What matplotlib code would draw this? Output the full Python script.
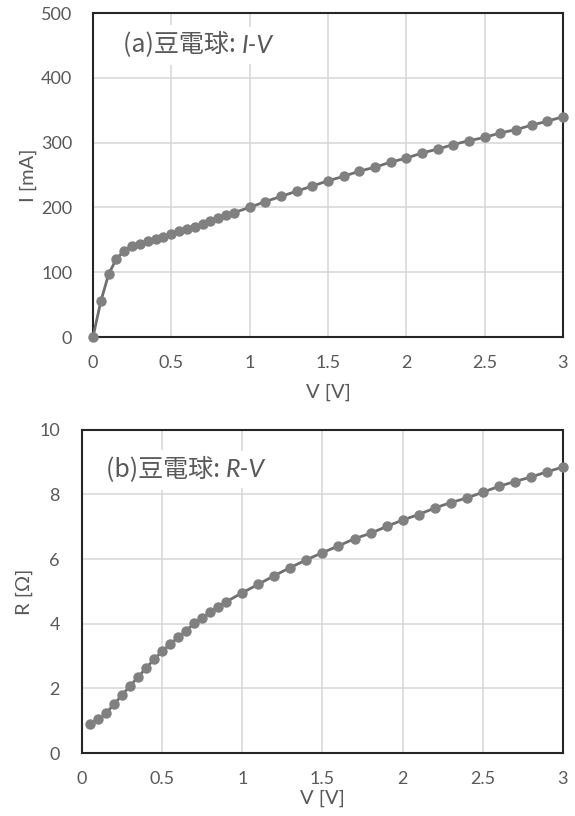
import numpy as np
import matplotlib
matplotlib.use("Agg")
import matplotlib.pyplot as plt

plt.rcParams['font.family'] = ['Lato', 'Noto Sans CJK JP', 'DejaVu Sans']

# I-V data
v_iv = [0, 0.05, 0.1, 0.15, 0.2, 0.25, 0.3, 0.35, 0.4, 0.45, 0.5, 0.55, 0.6, 0.65,
        0.7, 0.75, 0.8, 0.85, 0.9, 1.0, 1.1, 1.2, 1.3, 1.4, 1.5, 1.6, 1.7, 1.8, 1.9,
        2.0, 2.1, 2.2, 2.3, 2.4, 2.5, 2.6, 2.7, 2.8, 2.9, 3.0]
i_ma = [0, 55, 97, 121, 133, 141, 144, 148, 151, 154, 159, 163, 166, 170,
        175, 179, 184, 188, 192, 200, 209, 217, 225, 233, 241, 248, 256, 262, 270,
        276, 284, 290, 297, 303, 308, 315, 320, 327, 333, 340]

# R-V data
v_rv = v_iv[1:]
r_ohm = [0.90, 1.04, 1.23, 1.51, 1.79, 2.08, 2.35, 2.63, 2.90, 3.15, 3.37, 3.58, 3.79,
         4.01, 4.19, 4.35, 4.52, 4.68, 4.96, 5.22, 5.49, 5.74, 5.98, 6.20, 6.41, 6.63,
         6.80, 7.01, 7.21, 7.38, 7.58, 7.75, 7.89, 8.07, 8.25, 8.40, 8.54, 8.70, 8.85]

txt = '#595959'
grid_c = '#d9d9d9'
line_c = '#6f6f6f'
mark_c = '#808080'

fig = plt.figure(figsize=(5.75, 8.16), dpi=100)
ax1 = fig.add_axes([0.1617, 0.587, 0.8173, 0.397])
ax2 = fig.add_axes([0.1426, 0.0772, 0.8364, 0.396])


def style(ax, ypad):
    ax.grid(True, color=grid_c, linewidth=1.2)
    ax.set_axisbelow(True)
    for s in ax.spines.values():
        s.set_color('#262626')
        s.set_linewidth(1.5)
    ax.tick_params(length=0, labelsize=13, labelcolor=txt)
    ax.tick_params(axis='x', pad=13)
    ax.tick_params(axis='y', pad=ypad)
    ax.set_xlim(0, 3)
    ax.set_xticks([0, 0.5, 1, 1.5, 2, 2.5, 3])
    ax.set_xticklabels(['0', '0.5', '1', '1.5', '2', '2.5', '3'])


def label(ax, x, y, head, tail):
    t = ax.text(x, y, head, transform=ax.transAxes, fontsize=18, color=txt,
                va='center', ha='left', family=['Noto Sans CJK JP', 'DejaVu Sans'],
                bbox=dict(facecolor='white', edgecolor='none', pad=5))
    ax.annotate(tail, xy=(1, 0.5), xycoords=t, fontsize=18, color=txt,
                style='italic', va='center', ha='left',
                bbox=dict(facecolor='white', edgecolor='none', pad=5))


style(ax1, 15)
ax1.plot(v_iv, i_ma, color=line_c, linewidth=2, marker='o', markersize=6.5,
         markerfacecolor=mark_c, markeredgecolor=mark_c, clip_on=False, zorder=3)
ax1.set_ylim(0, 500)
ax1.set_yticks(range(0, 501, 100))
ax1.set_ylabel('I [mA]', fontsize=14.5, color=txt, labelpad=3)
ax1.set_xlabel('V [V]', fontsize=14.5, color=txt, labelpad=9)
label(ax1, 0.064, 0.90, '(a)豆電球: ', 'I-V')

style(ax2, 16)
ax2.plot(v_rv, r_ohm, color=line_c, linewidth=2, marker='o', markersize=6.5,
         markerfacecolor=mark_c, markeredgecolor=mark_c, clip_on=False, zorder=3)
ax2.set_ylim(0, 10)
ax2.set_yticks(range(0, 11, 2))
ax2.set_ylabel('R [Ω]', fontsize=14.5, color=txt, labelpad=4)
ax2.set_xlabel('V [V]', fontsize=14.5, color=txt, labelpad=2)
label(ax2, 0.05, 0.876, '(b)豆電球: ', 'R-V')

fig.savefig('out.png', dpi=100)
